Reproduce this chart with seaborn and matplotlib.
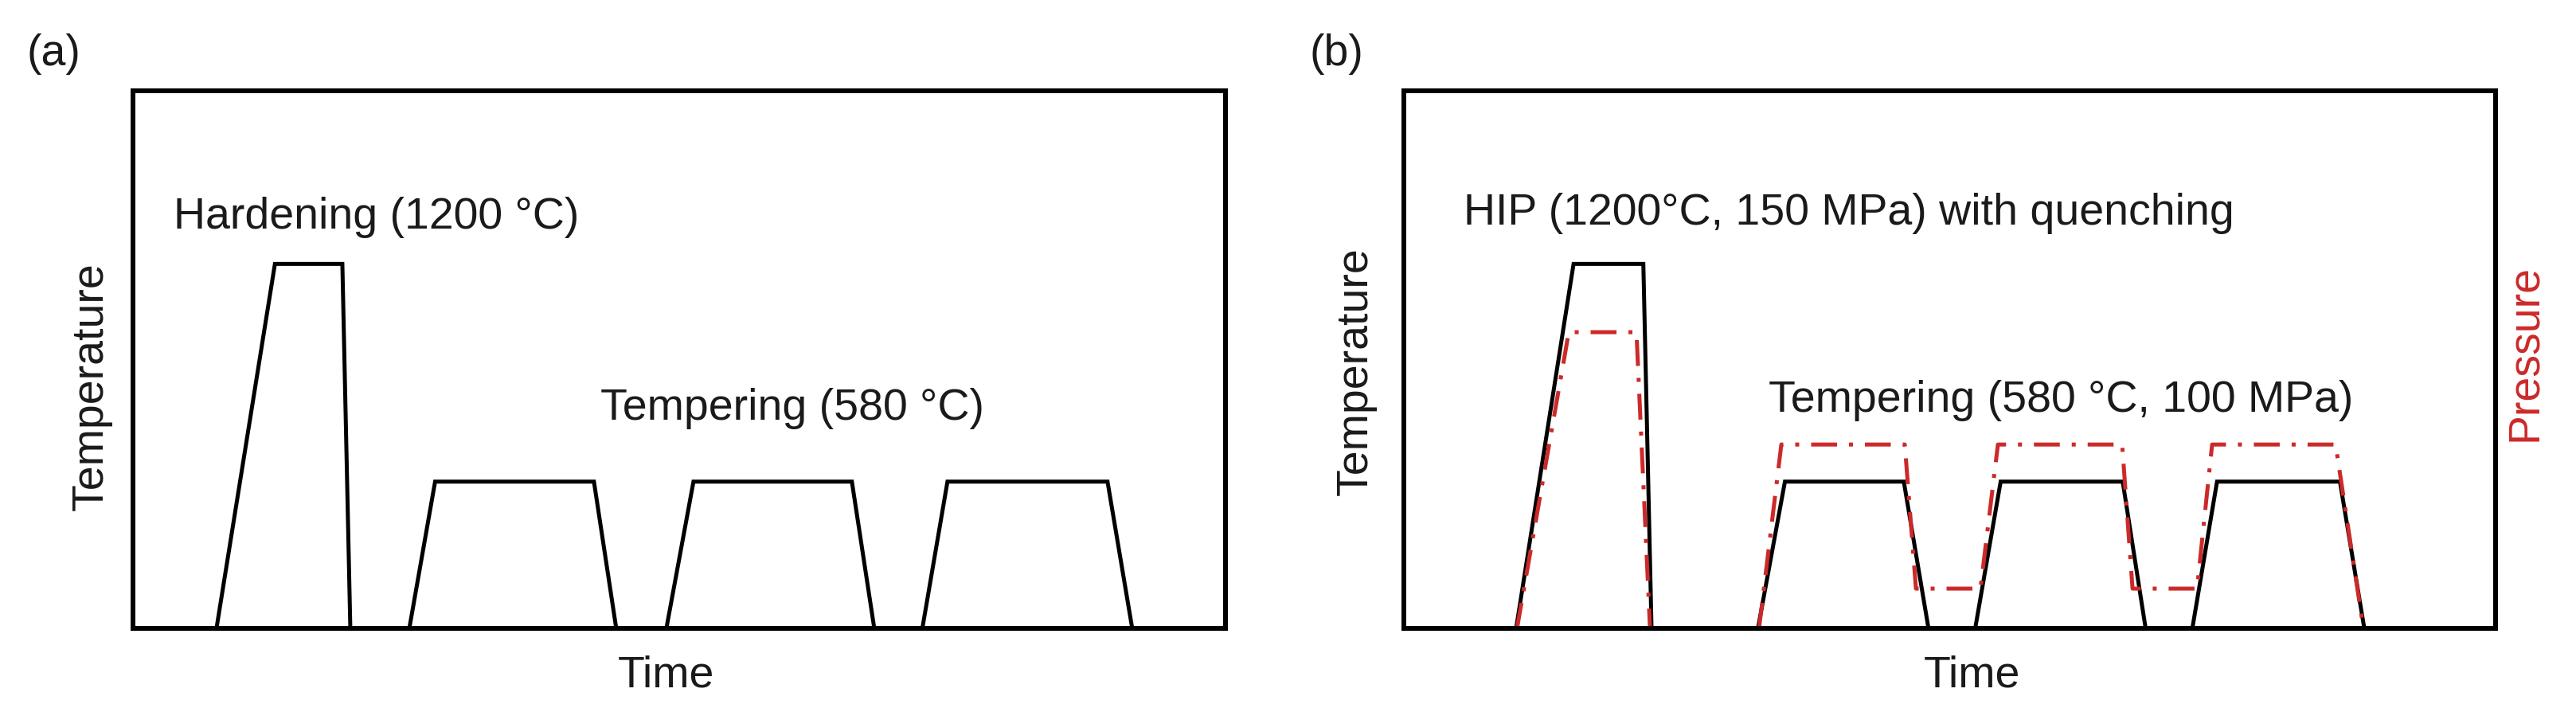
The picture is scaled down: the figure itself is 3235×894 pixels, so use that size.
import numpy as np
import pandas as pd
import matplotlib
matplotlib.use('Agg')
import matplotlib.pyplot as plt
import seaborn as sns

# --- Data (time / level in % of the axis range, schematic) ---
# (a) conventional route: hardening + 3x tempering
a_time = [7.65, 13.0, 19.17, 19.9,
          25.3, 27.66, 42.2, 44.24,
          48.83, 51.31, 65.81, 67.86,
          72.26, 74.56, 89.21, 91.47]
a_temp = [0, 67.8, 67.8, 0,
          0, 27.3, 27.3, 0,
          0, 27.3, 27.3, 0,
          0, 27.3, 27.3, 0]
a_cycle = [0, 0, 0, 0, 1, 1, 1, 1, 2, 2, 2, 2, 3, 3, 3, 3]

# (b) HIP route: temperature profile
b_time = [10.28, 15.54, 21.93, 22.68,
          32.43, 34.9, 45.79, 48.05,
          52.33, 54.66, 65.84, 67.94,
          72.22, 74.48, 85.74, 87.97]
b_temp = [0, 67.8, 67.8, 0,
          0, 27.3, 27.3, 0,
          0, 27.3, 27.3, 0,
          0, 27.3, 27.3, 0]
b_cycle = [0, 0, 0, 0, 1, 1, 1, 1, 2, 2, 2, 2, 3, 3, 3, 3]

# (b) pressure profile (red dash-dot)
p_time = [10.36, 15.1, 21.3, 22.54,
          32.53, 34.57, 45.88, 46.9, 52.81, 54.41, 65.79, 66.74,
          72.65, 74.03, 85.34, 87.89]
p_level = [0, 55.1, 55.1, 0,
           0, 34.2, 34.2, 7.4, 7.4, 34.2, 34.2, 7.4,
           7.4, 34.2, 34.2, 0]
p_cycle = [0, 0, 0, 0, 1, 1, 1, 1, 1, 1, 1, 1, 1, 1, 1, 1]

df_a = pd.DataFrame({'Time': a_time, 'Temperature': a_temp, 'cycle': a_cycle})
df_b = pd.DataFrame({'Time': b_time, 'Temperature': b_temp, 'cycle': b_cycle})
df_p = pd.DataFrame({'Time': p_time, 'Pressure': p_level, 'cycle': p_cycle})

sns.set_style('white')
plt.rcParams['font.family'] = ['Liberation Sans', 'DejaVu Sans']

txt = '#1a1a1a'
red = '#cc2a2a'
fs = 40

fig = plt.figure(figsize=(32.35, 8.95), dpi=100)
ax_a = fig.add_axes([0.0516, 0.1173, 0.4241, 0.7542])
ax_b = fig.add_axes([0.5450, 0.1173, 0.4238, 0.7542])

# panel (a)
sns.lineplot(data=df_a, x='Time', y='Temperature', units='cycle', estimator=None,
             sort=False, color='black', linewidth=3.6, ax=ax_a)

# panel (b)
sns.lineplot(data=df_b, x='Time', y='Temperature', units='cycle', estimator=None,
             sort=False, color='black', linewidth=3.6, ax=ax_b)
sns.lineplot(data=df_p, x='Time', y='Pressure', units='cycle', estimator=None,
             sort=False, color=red, linewidth=3.6, ax=ax_b,
             linestyle=(0, (6.5, 3, 1, 3)))

for ax in (ax_a, ax_b):
    ax.set_xlim(0, 100)
    ax.set_ylim(0, 100)
    ax.set_xticks([])
    ax.set_yticks([])
    ax.set_xlabel('')
    ax.set_ylabel('')
    for sp in ax.spines.values():
        sp.set_visible(True)
        sp.set_color('black')
        sp.set_linewidth(4.3)
    for ln in ax.get_lines():
        ln.set_solid_joinstyle('miter')

# texts (a)
ax_a.text(0.037, 0.745, 'Hardening (1200 °C)', transform=ax_a.transAxes,
          fontsize=fs, color=txt, ha='left', va='baseline')
ax_a.text(0.428, 0.39, 'Tempering (580 °C)', transform=ax_a.transAxes,
          fontsize=fs, color=txt, ha='left', va='baseline')
ax_a.text(-0.038, 0.452, 'Temperature', transform=ax_a.transAxes, rotation=90,
          fontsize=fs, color=txt, ha='center', va='center')
ax_a.text(0.488, -0.087, 'Time', transform=ax_a.transAxes,
          fontsize=fs, color=txt, ha='center', va='center')
fig.text(67 / 3235, 1 - 68 / 895, '(a)', fontsize=fs, color=txt, ha='center', va='center')

# texts (b)
ax_b.text(0.0547, 0.752, 'HIP (1200°C, 150 MPa) with quenching', transform=ax_b.transAxes,
          fontsize=fs, color=txt, ha='left', va='baseline')
ax_b.text(0.334, 0.404, 'Tempering (580 °C, 100 MPa)', transform=ax_b.transAxes,
          fontsize=fs, color=txt, ha='left', va='baseline')
ax_b.text(-0.0438, 0.48, 'Temperature', transform=ax_b.transAxes, rotation=90,
          fontsize=fs, color=txt, ha='center', va='center')
ax_b.text(1.027, 0.514, 'Pressure', transform=ax_b.transAxes, rotation=90,
          fontsize=fs, color=red, ha='center', va='center')
ax_b.text(0.52, -0.087, 'Time', transform=ax_b.transAxes,
          fontsize=fs, color=txt, ha='center', va='center')
fig.text(1678 / 3235, 1 - 68 / 895, '(b)', fontsize=fs, color=txt, ha='center', va='center')

fig.savefig('out.png', dpi=100, facecolor='white')
